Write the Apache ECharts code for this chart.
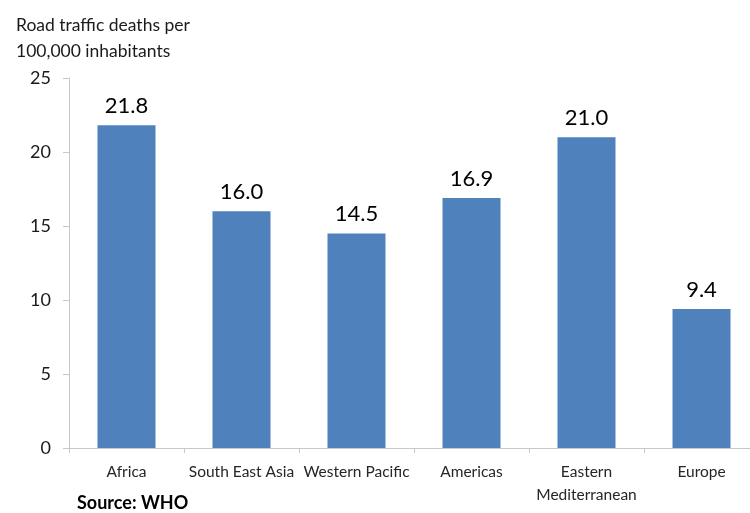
<!DOCTYPE html>
<html>
<head>
<meta charset="utf-8">
<script src="https://cdn.jsdelivr.net/npm/echarts@6/dist/echarts.min.js"></script>
<style>
  html, body { margin: 0; padding: 0; background: #ffffff; }
  #chart { width: 750px; height: 513px; }
</style>
</head>
<body>
<div id="chart"></div>
<script>
// Road traffic deaths per 100,000 inhabitants by WHO region
const regions = ['Africa', 'South East Asia', 'Western Pacific', 'Americas', 'Eastern\nMediterranean', 'Europe'];
const deathRates = [21.8, 16.0, 14.5, 16.9, 21.0, 9.4];
const yTicks = [0, 5, 10, 15, 20, 25];

const FONT = 'Lato, "Open Sans", sans-serif';
const chart = echarts.init(document.getElementById('chart'), null, { renderer: 'canvas' });

chart.setOption({
  animation: false,
  backgroundColor: '#ffffff',
  textStyle: { fontFamily: FONT },
  title: [
    {
      text: 'Road traffic deaths per\n100,000 inhabitants',
      left: 11, top: 7,
      textStyle: { fontFamily: FONT, fontSize: 17.5, fontWeight: 'normal', color: '#1a1a1a', lineHeight: 26 }
    },
    {
      text: 'Source: WHO',
      left: 72, top: 489,
      textStyle: { fontFamily: FONT, fontSize: 18, fontWeight: 'bold', color: '#000000' }
    }
  ],
  // the category axis runs past the right edge of the canvas
  grid: { left: 69, right: -9, top: 78, bottom: 65, containLabel: false, outerBoundsMode: 'none' },
  xAxis: {
    type: 'category',
    data: regions,
    axisLine: { lineStyle: { color: '#c8c8c8', width: 1 } },
    axisTick: { show: true, length: 5, lineStyle: { color: '#c8c8c8' } },
    axisLabel: { color: '#262626', fontSize: 15.5, fontFamily: FONT, margin: 12, lineHeight: 23, interval: 0 }
  },
  yAxis: {
    type: 'value',
    min: yTicks[0],
    max: yTicks[yTicks.length - 1],
    interval: 5,
    axisLine: { show: true, lineStyle: { color: '#c8c8c8', width: 1 } },
    axisTick: { show: true, length: 6, lineStyle: { color: '#c8c8c8' } },
    splitLine: { show: false },
    axisLabel: { color: '#1a1a1a', fontSize: 18, fontFamily: FONT, margin: 18 }
  },
  series: [{
    type: 'bar',
    data: deathRates,
    barWidth: 58,
    itemStyle: { color: '#4f81bd' },
    label: {
      show: true,
      position: 'top',
      distance: 8,
      formatter: p => p.value.toFixed(1),
      fontSize: 22,
      fontFamily: FONT,
      color: '#000000'
    }
  }]
});
</script>
</body>
</html>
